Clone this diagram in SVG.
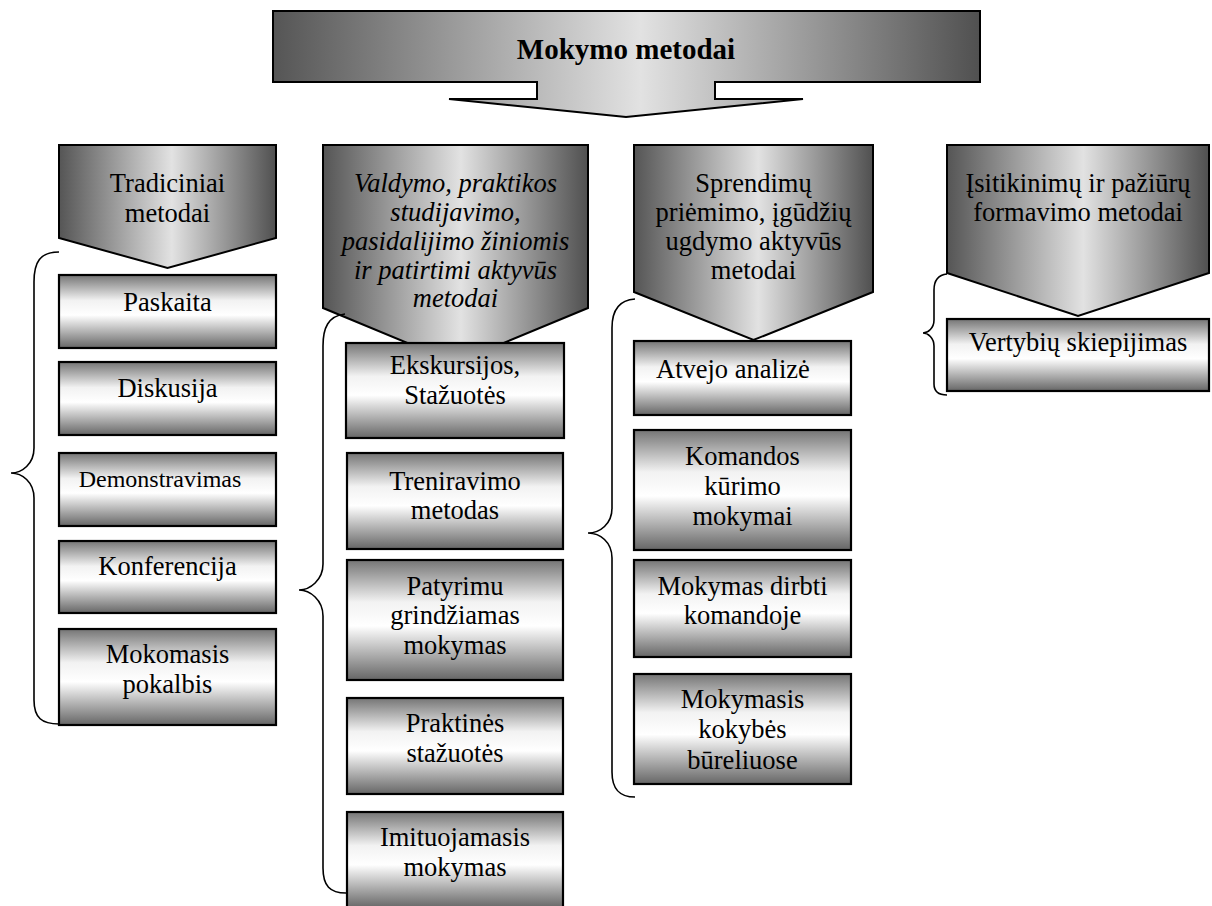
<svg xmlns="http://www.w3.org/2000/svg" width="1212" height="906" viewBox="0 0 1212 906">
<defs>
<linearGradient id="hg" x1="0" y1="0" x2="1" y2="0">
<stop offset="0" stop-color="#555555"/>
<stop offset="0.52" stop-color="#e2e2e2"/>
<stop offset="1" stop-color="#505050"/>
</linearGradient>
<linearGradient id="vg" x1="0" y1="0" x2="0" y2="1">
<stop offset="0" stop-color="#757575"/>
<stop offset="0.35" stop-color="#f2f2f2"/>
<stop offset="0.55" stop-color="#ffffff"/>
<stop offset="1" stop-color="#666666"/>
</linearGradient>
<style>
.hd{fill:url(#hg);stroke:#000;stroke-width:2}
.bx{fill:url(#vg);stroke:#000;stroke-width:2.2}
.t{font-family:"Liberation Serif","Times New Roman",serif;font-size:26.5px;fill:#000;text-anchor:middle}
.i{font-style:italic}
.s{font-size:24px}
.br{fill:none;stroke:#000;stroke-width:1.6}
</style>
</defs>
<rect width="1212" height="906" fill="#fff"/>

<g id="title">
<path class="hd" d="M273,11 H980 V82 H715 V99 H803 L626,117 L449,99 H537 V82 H273 Z"/>
<text class="t" x="626" y="59" style="font-weight:bold;font-size:29px">Mokymo metodai</text>
</g>

<g id="h1">
<path class="hd" d="M59,145 H276 V238 L167.5,268 L59,238 Z"/>
<text class="t" x="167.5" y="192">Tradiciniai</text>
<text class="t" x="167.5" y="222">metodai</text>
</g>
<g id="h2">
<path class="hd" d="M323,145 H588 V308 L455.5,363 L323,308 Z"/>
<text class="t i" x="455.5" y="192">Valdymo, praktikos</text>
<text class="t i" x="455.5" y="221">studijavimo,</text>
<text class="t i" x="455.5" y="250">pasidalijimo žiniomis</text>
<text class="t i" x="455.5" y="279">ir patirtimi aktyvūs</text>
<text class="t i" x="455.5" y="307">metodai</text>
</g>
<g id="h3">
<path class="hd" d="M634,145 H873 V292 L753.5,340 L634,292 Z"/>
<text class="t" x="753.5" y="192">Sprendimų</text>
<text class="t" x="753.5" y="221">priėmimo, įgūdžių</text>
<text class="t" x="753.5" y="250">ugdymo aktyvūs</text>
<text class="t" x="753.5" y="279">metodai</text>
</g>
<g id="h4">
<path class="hd" d="M947,145 H1209 V273 L1078,316 L947,273 Z"/>
<text class="t" x="1078" y="192">Įsitikinimų ir pažiūrų</text>
<text class="t" x="1078" y="221">formavimo metodai</text>
</g>

<g id="paskaita"><rect class="bx" x="59" y="275" width="217" height="73"/><text class="t" x="167.5" y="311">Paskaita</text></g>
<g id="diskusija"><rect class="bx" x="59" y="362" width="217" height="73"/><text class="t" x="167.5" y="397">Diskusija</text></g>
<g id="demonstravimas"><rect class="bx" x="59" y="453" width="217" height="73"/><text class="t s" x="160" y="487">Demonstravimas</text></g>
<g id="konferencija"><rect class="bx" x="59" y="541" width="217" height="72"/><text class="t" x="167.5" y="575">Konferencija</text></g>
<g id="mokomasis"><rect class="bx" x="59" y="629" width="217" height="96"/><text class="t" x="167.5" y="663">Mokomasis</text><text class="t" x="167.5" y="693">pokalbis</text></g>

<g id="ekskursijos"><rect class="bx" x="346" y="343" width="218" height="95"/><text class="t" x="455" y="374">Ekskursijos,</text><text class="t" x="455" y="404">Stažuotės</text></g>
<g id="treniravimo"><rect class="bx" x="347" y="453" width="216" height="96"/><text class="t" x="455" y="490">Treniravimo</text><text class="t" x="455" y="519">metodas</text></g>
<g id="patyrimu"><rect class="bx" x="347" y="560" width="216" height="120"/><text class="t" x="455" y="595">Patyrimu</text><text class="t" x="455" y="624">grindžiamas</text><text class="t" x="455" y="654">mokymas</text></g>
<g id="praktines"><rect class="bx" x="347" y="698" width="216" height="96"/><text class="t" x="455" y="732">Praktinės</text><text class="t" x="455" y="762">stažuotės</text></g>
<g id="imituojamasis"><rect class="bx" x="347" y="812" width="216" height="96"/><text class="t" x="455" y="846">Imituojamasis</text><text class="t" x="455" y="876">mokymas</text></g>

<g id="atvejo"><rect class="bx" x="634" y="341" width="217" height="74"/><text class="t" x="656" y="378" style="text-anchor:start">Atvejo analizė</text></g>
<g id="komandos"><rect class="bx" x="634" y="430" width="217" height="120"/><text class="t" x="742.5" y="465">Komandos</text><text class="t" x="742.5" y="495">kūrimo</text><text class="t" x="742.5" y="525">mokymai</text></g>
<g id="dirbti"><rect class="bx" x="634" y="560" width="217" height="97"/><text class="t" x="742.5" y="595">Mokymas dirbti</text><text class="t" x="742.5" y="624">komandoje</text></g>
<g id="kokybes"><rect class="bx" x="634" y="674" width="217" height="110"/><text class="t" x="742.5" y="708">Mokymasis</text><text class="t" x="742.5" y="738">kokybės</text><text class="t" x="742.5" y="769">būreliuose</text></g>

<g id="vertybiu"><rect class="bx" x="947" y="319" width="262" height="72"/><text class="t" x="1078" y="351">Vertybių skiepijimas</text></g>

<g id="connectors">
<path class="br" d="M59,252 C40,252 34,262 34,282 L34,448 C34,464 22,473 11,473 C22,473 34,482 34,498 L34,700 C34,718 42,724 59,724"/>
<path class="br" d="M345,314 C328,316 323,328 323,346 L323,564 C323,580 310,590 299,590 C310,590 323,600 323,616 L323,868 C323,886 330,893 346,893"/>
<path class="br" d="M635,299 C618,300 612,312 612,328 L612,508 C612,524 600,533 588,533 C600,533 612,542 612,558 L612,772 C612,790 620,797 635,797"/>
<path class="br" d="M947,274 C938,275 934,281 934,290 L934,320 C934,328 928,333 923,333 C928,333 934,338 934,346 L934,384 C934,392 939,395 947,395"/>
</g>
</svg>
